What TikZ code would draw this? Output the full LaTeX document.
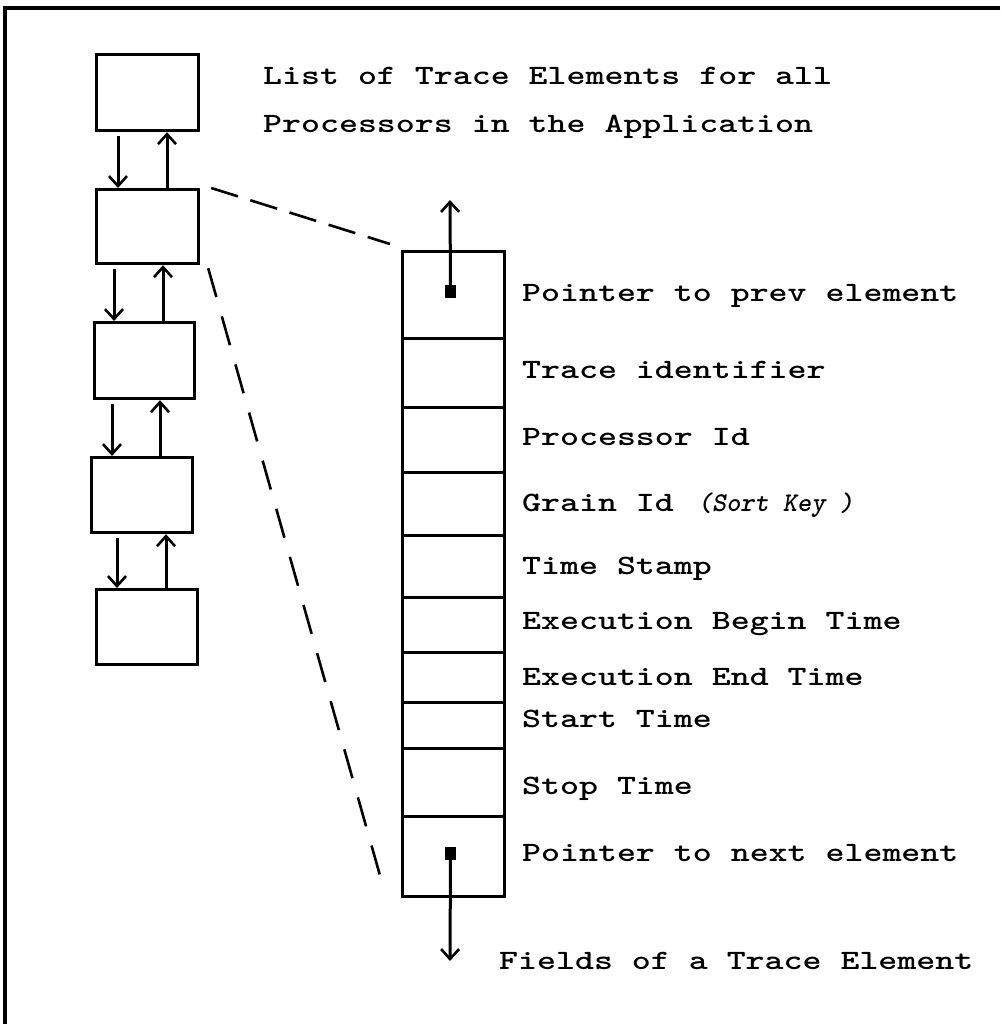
\documentclass[tikz,border=0pt]{standalone}
\usepackage{fontspec}
\usetikzlibrary{arrows.meta,calc}
% typewriter faces for the labels
\newfontfamily\tw{lmmonolt10-bold}[Extension=.otf, FakeStretch=1.29]
\newfontfamily\twit{lmmonolt10-boldoblique}[Extension=.otf]

\begin{document}
\begin{tikzpicture}[x=1pt,y=-1pt,
  box/.style={draw, line width=3.2pt, inner sep=0pt, anchor=north west},
  link/.style={line width=3pt, -{Straight Barb[length=10pt,width=18pt,line width=2.6pt]}},
  zoomA/.style={line width=2.6pt, dash pattern=on 28pt off 13pt},
  zoomB/.style={line width=2.6pt, dash pattern=on 30pt off 20pt},
  lbl/.style={anchor=base west, inner sep=0pt, font=\tw\fontsize{28}{34}\selectfont},
  ptr/.style={fill=black, draw=none, inner sep=0pt, minimum width=11pt, minimum height=13pt},
]
\useasboundingbox (0,0) rectangle (1000,1024);

% outer frame (top and left edges)
\draw[line width=3.5pt] (1000,8) -- (5,8) -- (5,1024);

% linked list of trace elements
\node[box, minimum width=102pt, minimum height=76pt] (b1) at (95,53) {};
\node[box, minimum width=102pt, minimum height=74pt] (b2) at (95,188) {};
\node[box, minimum width=100pt, minimum height=76pt] (b3) at (93,321) {};
\node[box, minimum width=101pt, minimum height=75pt] (b4) at (90,456) {};
\node[box, minimum width=101pt, minimum height=75pt] (b5) at (95,588) {};

\draw[link] (b1.south -| 118,0) ++(0,4) -- (b2.north -| 118,0);
\draw[link] (b2.north -| 167,0) -- (b1.south -| 167,0);
\draw[link] (b2.south -| 114,0) ++(0,4) -- (b3.north -| 114,0);
\draw[link] (b3.north -| 163,0) -- (b2.south -| 163,0);
\draw[link] (b3.south -| 112,0) ++(0,4) -- (b4.north -| 112,0);
\draw[link] (b4.north -| 160,0) -- (b3.south -| 160,0);
\draw[link] (b4.south -| 117,0) ++(0,4) -- (b5.north -| 117,0);
\draw[link] (b5.north -| 166,0) -- (b4.south -| 166,0);

% fields of one element
\node[box, minimum width=102pt, minimum height=87pt] (f1)  at (401,250) {};
\node[box, minimum width=102pt, minimum height=69pt] (f2)  at (401,337) {};
\node[box, minimum width=102pt, minimum height=65pt] (f3)  at (401,406) {};
\node[box, minimum width=102pt, minimum height=63pt] (f4)  at (401,471) {};
\node[box, minimum width=102pt, minimum height=62pt] (f5)  at (401,534) {};
\node[box, minimum width=102pt, minimum height=55pt] (f6)  at (401,596) {};
\node[box, minimum width=102pt, minimum height=50pt] (f7)  at (401,651) {};
\node[box, minimum width=102pt, minimum height=46pt] (f8)  at (401,701) {};
\node[box, minimum width=102pt, minimum height=68pt] (f9)  at (401,747) {};
\node[box, minimum width=102pt, minimum height=80pt] (f10) at (401,815) {};

% prev / next pointers
\node[ptr] (sq1) at (450.5,291) {};
\node[ptr] (sq2) at (450.5,853.5) {};
\coordinate (prevend) at (450,200);
\coordinate (nextend) at (450,961);
\draw[link] (sq1.center) -- (prevend);
\draw[link] (sq2.center) -- (nextend);

% expansion lines from the second element
\draw[zoomA] ($(b2.north east)+(11,0)$) -- ($(f1.north west)+(-11,-6)$);
\draw[zoomB] ($(b2.south east)+(8,3)$) -- ($(f10.south west)+(-16,-5)$);

% labels
\node[lbl] (title1) at (263,85) {List of Trace Elements for all};
\node[lbl] (title2) at (263,133) {Processors in the Application};

\node[lbl] (l1)  at (522,301.5) {Pointer to prev element};
\node[lbl] (l2)  at (522,378.5) {Trace identifier};
\node[lbl] (l3)  at (522,445.5) {Processor Id};
\node[lbl] (l4)  at (522,511.5) {Grain Id\hspace{24pt}{\twit\fontsize{27}{32}\selectfont(Sort Key )}};
\node[lbl] (l5)  at (522,574.5) {Time Stamp};
\node[lbl] (l6)  at (522,629.5) {Execution Begin Time};
\node[lbl] (l7)  at (522,685.5) {Execution End Time};
\node[lbl] (l8)  at (522,727.5) {Start Time};
\node[lbl] (l9)  at (522,794.5) {Stop Time};
\node[lbl] (l10) at (522,861.5) {Pointer to next element};

\node[lbl] (caption) at (499,969) {Fields of a Trace Element};
\end{tikzpicture}
\end{document}
